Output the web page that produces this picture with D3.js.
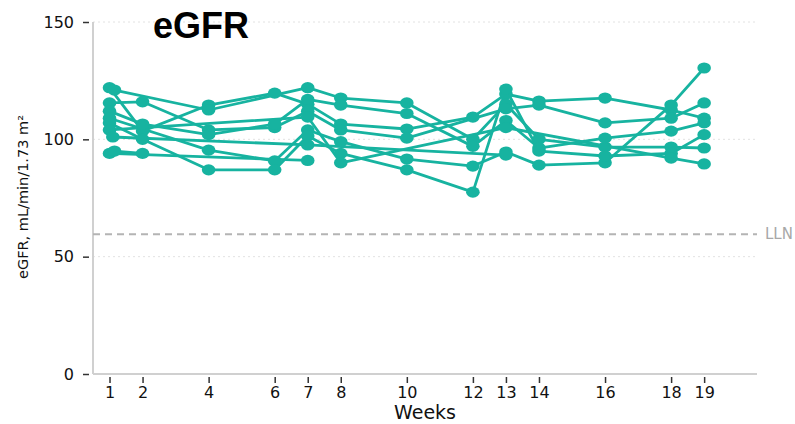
<!DOCTYPE html>
<html>
<head>
<meta charset="utf-8">
<script src="https://cdn.jsdelivr.net/npm/d3@7"></script>
<style>
  html, body { margin: 0; padding: 0; background: #fff; }
  svg { display: block; }
</style>
</head>
<body>
<svg id="chart" width="795" height="424"></svg>
<script>
// Study visits (weeks) shown on the x axis
const weekTicks = [1, 2, 4, 6, 7, 8, 10, 12, 13, 14, 16, 18, 19];
const yTicks = [0, 50, 100, 150];
const lln = 59.5;

// eGFR per participant: [week, mL/min/1.73 m²]
const p1 = [[1, 122], [2, 103.5], [4, 114.6], [6, 119.7], [7, 115], [8, 106.5], [10, 104.4], [12, 109.5], [13, 119.3], [14, 116.3], [16, 117.6], [18, 112.5], [19, 109]];
const p2 = [[1.15, 121], [4, 112.5], [7, 122], [8, 117.6], [10, 115.5], [12, 100], [13, 115], [14, 100], [16, 96.7], [18, 96.7], [19, 96.3]];
const p3 = [[1, 115.5], [2, 116], [4, 104], [6, 105], [7, 112], [8, 104], [10, 100.5], [13, 113], [14, 114.6], [16, 107], [18, 109], [19, 115.5]];
const p4 = [[1, 112], [2, 106.5], [4, 102], [6, 106.5], [7, 117], [8, 114.6], [10, 111], [12, 97], [13, 108], [14, 96.3], [16, 100.5], [18, 103.5], [19, 107]];
const p5 = [[1, 109], [4, 95.4], [6, 90.8], [7, 104], [8, 99], [10, 91.6], [12, 88.6], [13, 94.6], [14, 89], [16, 90], [18, 114.6], [19, 130.4]];
const p6 = [[1, 107], [2, 100], [4, 87], [6, 87], [7, 101.4], [8, 94], [10, 87], [12, 77.5], [13, 121.4], [14, 95], [16, 92.9], [18, 94], [19, 102]];
const p7 = [[1, 104], [7, 109.5], [8, 90], [13, 105], [18, 92], [19, 89.5]];
const p8 = [[1.1, 101], [7, 97.6], [13, 93.3]];
const p9 = [[1, 94], [7, 91]];
const p10 = [[1.15, 95], [2, 94]];
const participants = [p1, p2, p3, p4, p5, p6, p7, p8, p9, p10];

const teal = "#17b3a0";
const svg = d3.select("#chart");

const x = d3.scaleLinear().domain([0.5, 20.6]).range([93, 757]);
const y = d3.scaleLinear().domain([0, 150]).range([374, 22]);

// light dotted gridlines
svg.append("g")
  .selectAll("line")
  .data(yTicks.filter(d => d > 0))
  .join("line")
  .attr("x1", x(0.5)).attr("x2", x(20.6))
  .attr("y1", d => y(d)).attr("y2", d => y(d))
  .attr("stroke", "#e2e2e2")
  .attr("stroke-width", 1)
  .attr("stroke-dasharray", "2,3");

// axes
const yAxis = d3.axisLeft(y).tickValues(yTicks).tickSize(6).tickPadding(9);
const gy = svg.append("g").attr("transform", "translate(89,0)").call(yAxis);
gy.select(".domain").remove();
gy.selectAll(".tick line").attr("stroke", "#333").attr("stroke-width", 1.5);
gy.selectAll(".tick text")
  .attr("font-family", "DejaVu Sans")
  .attr("font-size", 16)
  .attr("fill", "#111");

const xAxis = d3.axisBottom(x).tickValues(weekTicks).tickSize(6).tickPadding(4);
const gx = svg.append("g").attr("transform", "translate(0,377)").call(xAxis);
gx.select(".domain").remove();
gx.selectAll(".tick line").attr("stroke", "#333").attr("stroke-width", 1.5);
gx.selectAll(".tick text")
  .attr("font-family", "DejaVu Sans")
  .attr("font-size", 16)
  .attr("fill", "#111");

// spines
svg.append("line")
  .attr("x1", x(0.5)).attr("x2", x(0.5))
  .attr("y1", y(150)).attr("y2", y(0))
  .attr("stroke", "#d0d0d0").attr("stroke-width", 2);
svg.append("line")
  .attr("x1", x(0.5)).attr("x2", x(20.6))
  .attr("y1", y(0)).attr("y2", y(0))
  .attr("stroke", "#d0d0d0").attr("stroke-width", 2);

// lower limit of normal
svg.append("line")
  .attr("x1", x(0.5)).attr("x2", x(20.6))
  .attr("y1", y(lln)).attr("y2", y(lln))
  .attr("stroke", "#b4b4b4").attr("stroke-width", 2)
  .attr("stroke-dasharray", "7,5");
svg.append("text")
  .attr("x", 765).attr("y", y(lln) + 5)
  .attr("font-family", "DejaVu Sans").attr("font-size", 15)
  .attr("fill", "#a8a8a8")
  .text("LLN");

// participant trajectories
const line = d3.line().x(d => x(d[0])).y(d => y(d[1]));
svg.append("g")
  .selectAll("path")
  .data(participants)
  .join("path")
  .attr("d", line)
  .attr("fill", "none")
  .attr("stroke", teal)
  .attr("stroke-width", 2.8)
  .attr("stroke-linejoin", "round");

svg.append("g")
  .selectAll("ellipse")
  .data(participants.flat())
  .join("ellipse")
  .attr("cx", d => x(d[0]))
  .attr("cy", d => y(d[1]))
  .attr("rx", 6.8)
  .attr("ry", 5.6)
  .attr("fill", teal);

// titles
svg.append("text")
  .attr("x", 201).attr("y", 38)
  .attr("text-anchor", "middle")
  .attr("font-family", "Liberation Sans, Arial, sans-serif")
  .attr("font-weight", "bold")
  .attr("font-size", 36)
  .attr("fill", "#000")
  .text("eGFR");

svg.append("text")
  .attr("x", 425).attr("y", 419)
  .attr("text-anchor", "middle")
  .attr("font-family", "DejaVu Sans")
  .attr("font-size", 19)
  .attr("fill", "#111")
  .text("Weeks");

svg.append("text")
  .attr("transform", "translate(28,197) rotate(-90)")
  .attr("text-anchor", "middle")
  .attr("font-family", "DejaVu Sans")
  .attr("font-size", 14.5)
  .attr("fill", "#111")
  .text("eGFR, mL/min/1.73 m²");
</script>
</body>
</html>
